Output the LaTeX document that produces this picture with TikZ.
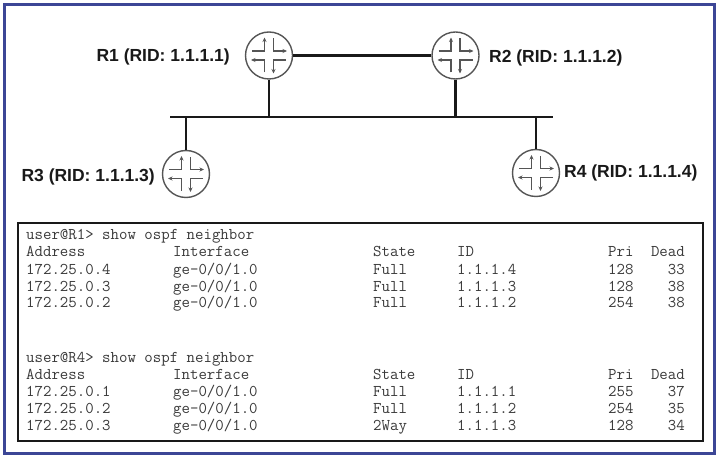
\documentclass[tikz,border=0pt]{standalone}
\usepackage{fontspec}
\setmainfont{Liberation Sans}
\usetikzlibrary{arrows.meta}
\definecolor{framecol}{HTML}{3C4696}
\definecolor{icongray}{HTML}{555555}
\definecolor{termtext}{HTML}{3A3A3A}
\tikzset{
  router/.style={circle, draw=icongray, line width=1.4bp, fill=white, minimum size=47bp, inner sep=0pt,
    path picture={
      \begin{scope}[shift={(path picture bounding box.center)}, draw=icongray, line width=1.2bp,
          arr/.style={-{Stealth[length=4.5bp,width=4bp]}}]
        \draw[arr] (-17,-4.5) -- (-4.5,-4.5) -- (-4.5,-18);
        \draw[arr] (4.5,-17) -- (4.5,-4.5) -- (18,-4.5);
        \draw[arr] (17,4.5) -- (4.5,4.5) -- (4.5,18);
        \draw[arr] (-4.5,17) -- (-4.5,4.5) -- (-18,4.5);
      \end{scope}
    }},
  rlabel/.style={font=\fontsize{17.5bp}{20bp}\selectfont\bfseries, inner sep=0pt, text=black!90},
  link/.style={line width=2.2bp, black!90},
  termbox/.style={draw=black!90, line width=2bp, fill=white, inner sep=0pt, anchor=north west},
  tline/.style={font=\ttfamily\fontsize{16.4bp}{19bp}\selectfont, text=termtext, inner sep=0pt, anchor=base west},
  tright/.style={tline, anchor=base east},
}
\begin{document}
\begin{tikzpicture}[x=1bp, y=-1bp]
\useasboundingbox (0,0) rectangle (719,458);
\fill[white] (0,0) rectangle (719,458);
\draw[framecol, line width=3bp] (4.5,4.5) rectangle (714.5,453);

% bus
\coordinate (busL) at (170,117);
\coordinate (busR) at (553,117);
\draw[link] (busL) -- (busR);

% routers
\node[router] (R1) at (269,55.5) {};
\node[router] (R2) at (455.5,55.5) {};
\node[router] (R3) at (186,174) {};
\node[router] (R4) at (536,173) {};

\draw[link] (R1) -- (R2);
\draw[link] (R1.south) -- (R1.south |- busL);
\draw[link] (R2.south) -- (R2.south |- busL);
\draw[link] (R3.north) -- (R3.north |- busL);
\draw[link] (R4.north) -- (R4.north |- busL);

\node[rlabel, anchor=east] (L1) at (230,57) {R1 (RID: 1.1.1.1)};
\node[rlabel, anchor=west] (L2) at (489,58) {R2 (RID: 1.1.1.2)};
\node[rlabel, anchor=east] (L3) at (155,177) {R3 (RID: 1.1.1.3)};
\node[rlabel, anchor=west] (L4) at (564,173) {R4 (RID: 1.1.1.4)};

% terminal box
\node[termbox, minimum width=685bp, minimum height=218bp] (term) at (17,222) {};

% block 1
\node[tline] (c1) at (26,240) {user@R1> show ospf neighbor};
\foreach \y/\a/\b/\c/\d/\e/\f [count=\i] in {
  257/Address/Interface/State/ID/Pri/Dead,
  275/172.25.0.4/ge-0\slash 0\slash 1.0/Full/1.1.1.4/128/33,
  292/172.25.0.3/ge-0\slash 0\slash 1.0/Full/1.1.1.3/128/38,
  308/172.25.0.2/ge-0\slash 0\slash 1.0/Full/1.1.1.2/254/38}{
  \node[tline] (a\i) at (26,\y) {\a};
  \node[tline] (b\i) at (173,\y) {\b};
  \node[tline] (s\i) at (373,\y) {\c};
  \node[tline] (d\i) at (457,\y) {\d};
  \node[tline] (p\i) at (608,\y) {\e};
  \node[tright] (e\i) at (685,\y) {\f};
}
% block 2
\node[tline] (c2) at (26,362) {user@R4> show ospf neighbor};
\foreach \y/\a/\b/\c/\d/\e/\f [count=\i] in {
  379/Address/Interface/State/ID/Pri/Dead,
  396/172.25.0.1/ge-0\slash 0\slash 1.0/Full/1.1.1.1/255/37,
  413/172.25.0.2/ge-0\slash 0\slash 1.0/Full/1.1.1.2/254/35,
  430/172.25.0.3/ge-0\slash 0\slash 1.0/2Way/1.1.1.3/128/34}{
  \node[tline] (aa\i) at (26,\y) {\a};
  \node[tline] (bb\i) at (173,\y) {\b};
  \node[tline] (ss\i) at (373,\y) {\c};
  \node[tline] (dd\i) at (457,\y) {\d};
  \node[tline] (pp\i) at (608,\y) {\e};
  \node[tright] (ee\i) at (685,\y) {\f};
}
\end{tikzpicture}
\end{document}
